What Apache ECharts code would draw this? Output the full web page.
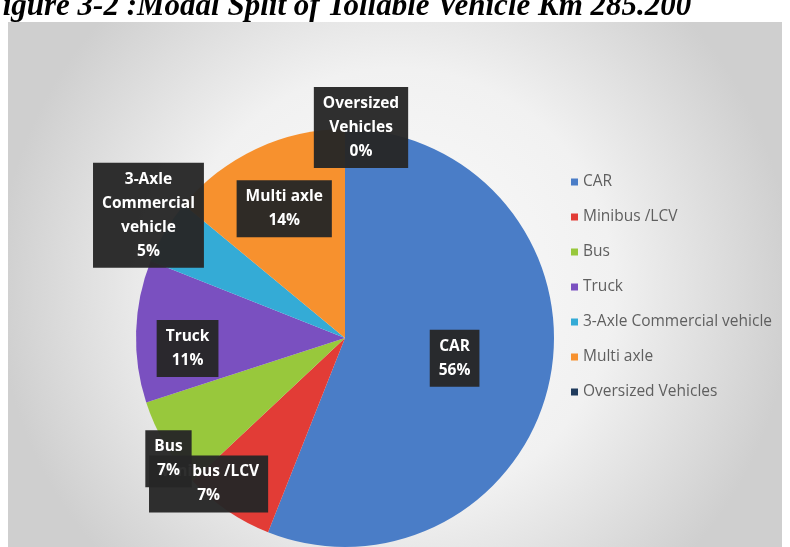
<!DOCTYPE html>
<html>
<head>
<meta charset="utf-8">
<style>
  html, body { margin: 0; padding: 0; background: #ffffff; }
  #chart { width: 790px; height: 547px; }
</style>
<script src="https://cdn.jsdelivr.net/npm/echarts@6/dist/echarts.min.js"></script>
</head>
<body>
<div id="chart"></div>
<script>
// Modal split of tollable vehicle km, share in percent
const categories = ['CAR', 'Minibus /LCV', 'Bus', 'Truck', '3-Axle Commercial vehicle', 'Multi axle', 'Oversized Vehicles'];
const shares = [56, 7, 7, 11, 5, 14, 0];
// wrapped text used inside the data label boxes
const labelNames = ['CAR', 'Minibus /LCV', 'Bus', 'Truck', '3-Axle\nCommercial\nvehicle', 'Multi axle', 'Oversized\nVehicles'];
const titleText = 'Figure 3-2 :Modal Split of Tollable Vehicle Km 285.200';

const sliceColors = ['#4a7dc7', '#e23c36', '#98c83c', '#7a50c0', '#34abd6', '#f7912e', '#1f3a5c'];
// label nudges away from the default inside position, in px
const labelNudge = [[4, 0], [-76, 57], [-84, 66], [-50, 14], [-104, -68], [-15, -32], [16, -103]];

const chart = echarts.init(document.getElementById('chart'), null, { renderer: 'canvas' });

chart.setOption({
  animation: false,
  backgroundColor: '#ffffff',
  color: sliceColors,
  graphic: [
    {
      type: 'rect',
      z: -10,
      shape: { x: 8, y: 22, width: 774, height: 530 },
      style: {
        fill: {
          type: 'radial', x: 0.5, y: 0.5, r: 0.75,
          colorStops: [
            { offset: 0, color: '#fbfbfb' },
            { offset: 0.55, color: '#f1f1f1' },
            { offset: 1, color: '#cfcfcf' }
          ]
        }
      }
    },
    {
      type: 'text',
      left: -18,
      top: -9,
      style: {
        text: titleText,
        font: 'italic bold 31px "Liberation Serif"',
        fill: '#000000'
      }
    }
  ],
  legend: {
    orient: 'vertical',
    left: 566,
    top: 167,
    icon: 'rect',
    itemWidth: 7,
    itemHeight: 7,
    itemGap: 15,
    selectedMode: false,
    data: categories,
    textStyle: {
      color: '#5f5f5f',
      fontFamily: 'Open Sans',
      fontSize: 15.5,
      lineHeight: 20
    }
  },
  series: [
    {
      type: 'pie',
      center: [345, 338],
      radius: 209,
      startAngle: 90,
      clockwise: true,
      avoidLabelOverlap: false,
      emphasis: { disabled: true },
      itemStyle: { borderWidth: 0 },
      label: {
        show: true,
        position: 'inside',
        formatter: p => labelNames[p.dataIndex] + '\n' + p.value + '%',
        color: '#ffffff',
        fontFamily: 'Open Sans',
        fontWeight: 'bold',
        fontSize: 15.5,
        lineHeight: 24,
        align: 'center',
        backgroundColor: 'rgba(38,38,38,0.96)',
        padding: [5, 9, 4, 9]
      },
      labelLine: { show: false },
      labelLayout: p => ({ dx: labelNudge[p.dataIndex][0], dy: labelNudge[p.dataIndex][1] }),
      data: categories.map((name, i) => ({ name: name, value: shares[i] }))
    }
  ]
});
</script>
</body>
</html>
